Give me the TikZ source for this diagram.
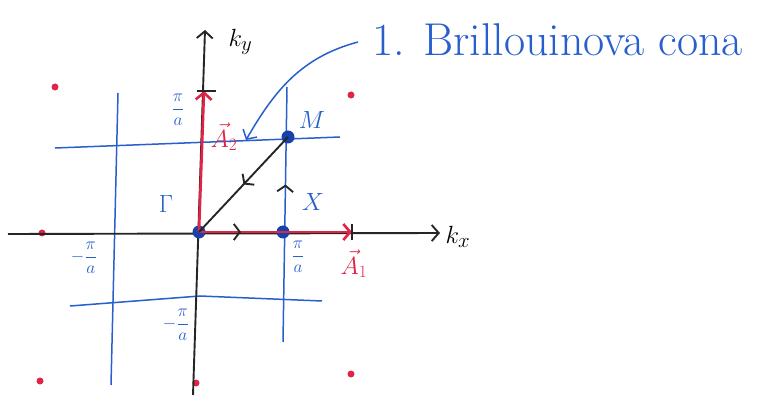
\documentclass[tikz,border=0pt]{standalone}
\usetikzlibrary{arrows.meta, decorations.markings, positioning}

\definecolor{penblue}{RGB}{40,95,205}
\definecolor{dotblue}{RGB}{25,65,170}
\definecolor{penred}{RGB}{225,35,70}

\begin{document}
\begin{tikzpicture}[
    x=1pt, y=-1pt,
    >={Straight Barb[length=7pt,width=16pt]},
    axis/.style={
        ->,
        line width=1.9pt,
        black!85
    },
    zone/.style={
        line width=1.5pt,
        penblue
    },
    recvec/.style={
        ->,
        line width=2.6pt,
        penred
    },
    latpt/.style={
        circle,
        fill=penred,
        inner sep=0pt,
        minimum size=7pt
    },
    sympt/.style={
        circle,
        fill=dotblue,
        inner sep=0pt,
        minimum size=13pt
    },
    lbl/.style={
        text=penblue,
        inner sep=1pt,
        font=\fontsize{26}{30}\selectfont
    },
    frac/.style={
        text=penblue,
        inner sep=1pt,
        font=\fontsize{19}{22}\selectfont
    },
    veclbl/.style={
        text=penred,
        inner sep=1pt,
        font=\fontsize{24}{28}\selectfont
    },
    midarrow/.style={
        decoration={
            markings,
            mark=at position 0.5 with {\arrow[line width=1.9pt, black!85]{Straight Barb[length=6pt,width=16pt]}}
        },
        postaction=decorate
    }
]
    \useasboundingbox (0,0) rectangle (771,403);

    % Reciprocal lattice points
    \node[latpt] (g1) at (55,87) {};
    \node[latpt] (g2) at (351,95) {};
    \node[latpt] (g3) at (42,233) {};
    \node[latpt] (g4) at (40,381) {};
    \node[latpt] (g5) at (196,383) {};
    \node[latpt] (g6) at (351,374) {};

    % --- First Brillouin zone boundaries ---
    \draw[zone] (118,93) -- (111,385);
    \draw[zone] (287,87) -- (283,342);
    \draw[zone] (55,148) -- (340,137);
    \draw[zone] (70,306) -- (200,296) -- (322,301);

    % --- Axes ---
    \coordinate (xl) at (8,234);
    \coordinate (xr) at (440,233);
    \coordinate (yb) at (193,395);
    \coordinate (yt) at (205,30);
    \draw[axis] (xl) -- (xr);
    \draw[axis] (yb) -- (yt);
    \node[font=\fontsize{32}{36}\selectfont, right=2pt of xr, yshift=-4pt] (qx) {$k_x$};
    \node[font=\fontsize{32}{36}\selectfont, right=20pt of yt, yshift=-12pt] (ky) {$k_y$};

    % Symmetry points
    \node[sympt] (Gamma) at (199,232) {};
    \node[sympt] (X) at (283,232) {};
    \node[sympt] (M) at (288,137) {};

    % --- Reciprocal vectors ---
    \coordinate (b1) at (352,232);
    \coordinate (b2) at (204,91);
    \draw[recvec] (Gamma.center) -- (b1);
    \draw[recvec] (Gamma.center) -- (b2);
    \draw[line width=1.9pt, black!85] ([yshift=-8pt]b1) -- ([yshift=8pt]b1);
    \draw[line width=1.9pt, black!85] ([xshift=-7pt]b2) -- ([xshift=12pt]b2);
    \node[veclbl] (A1) at (354,264) {$\vec{A}_1$};
    \node[veclbl] (A2) at (224,137) {$\vec{A}_2$};

    % --- Path Gamma -> X -> M -> Gamma ---
    \path[midarrow] (Gamma) -- (X);
    \path[midarrow] (X) -- (M);
    \draw[line width=1.9pt, black!85, midarrow] (M.center) -- (Gamma.center);

    % Labels
    \node[lbl] (lG) at (166,204) {$\Gamma$};
    \node[lbl] (lX) at (313,202) {$X$};
    \node[lbl] (lM) at (312,120) {$M$};
    \node[frac] (pa1) at (178,110) {$\displaystyle\frac{\pi}{a}$};
    \node[frac] (pa2) at (298,257) {$\displaystyle\frac{\pi}{a}$};
    \node[frac] (ma1) at (84,258) {$\displaystyle-\frac{\pi}{a}$};
    \node[frac] (ma2) at (176,325) {$\displaystyle-\frac{\pi}{a}$};

    % Brillouin zone caption
    \node[text=penblue, font=\fontsize{46}{52}\selectfont, anchor=west, inner sep=0pt] (bz) at (372,40) {1. Brillouinova cona};
    \coordinate (bzin) at (246,140);
    \draw[zone, ->] ([xshift=-14pt,yshift=-2pt]bz.west) to[out=195, in=60] (bzin);
\end{tikzpicture}
\end{document}
